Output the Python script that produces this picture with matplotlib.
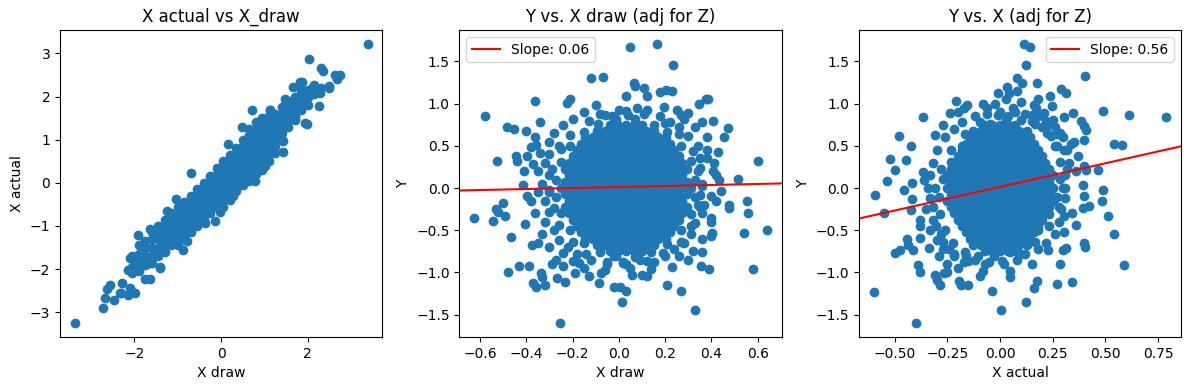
import numpy as np
import matplotlib.pyplot as plt

# ---- panel 1: X actual vs X draw ----
# dense band, one column of points per x draw value
band_x = [-2.05, -1.9, -1.75, -1.6, -1.45, -1.3, -1.15, -1.0, -0.85, -0.7,
          -0.55, -0.4, -0.25, -0.1, 0.05, 0.2, 0.35, 0.5, 0.65, 0.8,
          0.95, 1.1, 1.25, 1.4, 1.55, 1.7, 1.85, 2.0, 2.15, 2.3]
band_y = [
    [-1.75, -1.95, -2.1],
    [-1.45, -1.65, -1.85, -2.05],
    [-1.35, -1.5, -1.7, -1.9],
    [-1.15, -1.3, -1.5, -1.7, -1.85],
    [-1.0, -1.15, -1.3, -1.5, -1.7],
    [-0.85, -1.0, -1.15, -1.3, -1.45, -1.6],
    [-0.7, -0.85, -1.0, -1.15, -1.3, -1.45],
    [-0.55, -0.7, -0.85, -1.0, -1.15, -1.3, -1.45],
    [-0.45, -0.6, -0.75, -0.9, -1.05, -1.2, -1.3],
    [-0.3, -0.45, -0.6, -0.75, -0.9, -1.05, -1.15],
    [-0.15, -0.3, -0.45, -0.6, -0.75, -0.9, -1.0],
    [0.0, -0.15, -0.3, -0.45, -0.6, -0.75, -0.85],
    [0.15, 0.0, -0.15, -0.3, -0.45, -0.6, -0.7],
    [0.35, 0.2, 0.05, -0.1, -0.25, -0.4, -0.55],
    [0.5, 0.35, 0.2, 0.05, -0.1, -0.25, -0.4, -0.55],
    [0.65, 0.5, 0.35, 0.2, 0.05, -0.1, -0.25, -0.4],
    [0.8, 0.65, 0.5, 0.35, 0.2, 0.05, -0.1, -0.2],
    [1.0, 0.85, 0.7, 0.55, 0.4, 0.25, 0.1, -0.05],
    [1.25, 1.1, 0.95, 0.8, 0.65, 0.5, 0.35, 0.2, 0.05],
    [1.4, 1.25, 1.1, 0.95, 0.8, 0.65, 0.5, 0.35, 0.2],
    [1.5, 1.35, 1.2, 1.05, 0.9, 0.75, 0.6, 0.45, 0.3],
    [1.55, 1.4, 1.25, 1.1, 0.95, 0.8, 0.65, 0.5],
    [1.6, 1.45, 1.3, 1.15, 1.0, 0.85, 0.7],
    [1.75, 1.6, 1.45, 1.3, 1.15, 1.0],
    [1.9, 1.75, 1.6, 1.45, 1.3],
    [2.0, 1.85, 1.7, 1.55, 1.45],
    [2.15, 2.0, 1.85, 1.7],
    [2.15, 2.0, 1.8],
    [2.2, 2.05],
    [2.2],
]
# scattered points around the band
x_draw_out = [-3.38, 3.38, 2.02, 2.31, 2.35, 2.63, 2.75, 2.67, 2.5, 2.48,
              2.27, 2.28, 1.98, 2.13, 1.86, 1.82, 1.67, 2.15, 0.71, 1.12,
              1.48, 1.42, 1.44, 0.48, 0.15, -0.7, -1.05, -0.02, -0.14, -0.88,
              -1.91, -2.06, -2.14, -1.65, -1.75, -1.42, -2.29, -2.56, -2.64, -2.68,
              -2.48, -2.72, -2.33, -2.14, -1.98, -1.25, -1.64, -2.1, -2.1, -2.31,
              -1.41, -0.37, -0.79, -1.72, 1.71, 1.94, 1.02, 0.78, 0.28, 1.13]
x_actual_out = [-3.25, 3.22, 2.88, 2.67, 2.6, 2.51, 2.51, 2.4, 2.2, 2.24,
                1.79, 2.09, 1.37, 2.23, 2.34, 2.34, 2.23, 2.28, 1.68, 1.68,
                1.95, 0.71, 0.97, 1.29, 0.91, 0.22, -0.37, -0.68, -0.89, -1.55,
                -1.2, -1.7, -2.03, -2.24, -2.24, -1.96, -2.32, -2.36, -2.46, -2.67,
                -2.71, -2.9, -2.55, -2.61, -2.55, -0.66, -1.08, -1.74, -2.44, -2.55,
                -1.97, -0.93, -1.35, -1.89, 1.51, 1.39, 0.39, 0.04, -0.31, 1.7]

# ---- panel 2: Y vs X draw (adjusted for Z) ----
# dense core: rows of x draw values, each row at one Y level
a17 = [-0.25, -0.215, -0.18, -0.145, -0.11, -0.075, -0.04, -0.005, 0.03,
       0.065, 0.1, 0.135, 0.17, 0.205, 0.24, 0.275, 0.31]
b16 = [-0.233, -0.198, -0.163, -0.128, -0.093, -0.058, -0.023, 0.013,
       0.048, 0.083, 0.118, 0.153, 0.188, 0.223, 0.258, 0.293]
a15 = [-0.215, -0.18, -0.145, -0.11, -0.075, -0.04, -0.005, 0.03, 0.065,
       0.1, 0.135, 0.17, 0.205, 0.24, 0.275]
b14 = [-0.198, -0.163, -0.128, -0.093, -0.058, -0.023, 0.013, 0.048,
       0.083, 0.118, 0.153, 0.188, 0.223, 0.258]
a13 = [-0.18, -0.145, -0.11, -0.075, -0.04, -0.005, 0.03, 0.065, 0.1,
       0.135, 0.17, 0.205, 0.24]
b12 = [-0.163, -0.128, -0.093, -0.058, -0.023, 0.013, 0.048, 0.083,
       0.118, 0.153, 0.188, 0.223]
a11 = [-0.145, -0.11, -0.075, -0.04, -0.005, 0.03, 0.065, 0.1, 0.135,
       0.17, 0.205]
b8 = [-0.093, -0.058, -0.023, 0.013, 0.048, 0.083, 0.118, 0.153]
a5 = [-0.04, -0.005, 0.03, 0.065, 0.1]
core2_y = [0.75, 0.675, 0.6, 0.525, 0.45, 0.375, 0.3, 0.225, 0.15, 0.075, 0.0,
           -0.075, -0.15, -0.225, -0.3, -0.375, -0.45, -0.525, -0.6, -0.675, -0.75]
core2_x = [a5, b8, a11, b12, a13, b14, a15, b16, a15, b16, a17,
           b16, a15, b16, a15, b14, a13, b12, a11, b8, a5]

# points fringing the core
fringe2_x = [0.36, 0.349, 0.32, 0.26, 0.2, 0.11, 0.03, -0.06, -0.13, -0.21,
             -0.25, -0.29, -0.30, -0.28, -0.26, -0.2, -0.14, -0.05, 0.03, 0.12,
             0.19, 0.27, 0.31, 0.35,
             0.33, 0.31, 0.27, 0.21, 0.15, 0.07, -0.01, -0.09, -0.15, -0.21,
             -0.25, -0.27, -0.27, -0.25, -0.21, -0.15, -0.08, -0.01, 0.07, 0.14,
             0.21, 0.27, 0.31, 0.33]
fringe2_y = [0.02, 0.24, 0.44, 0.64, 0.77, 0.88, 0.91, 0.86, 0.79, 0.63,
             0.46, 0.22, -0.02, -0.24, -0.44, -0.64, -0.78, -0.88, -0.9, -0.86,
             -0.77, -0.64, -0.45, -0.22,
             0.1, 0.32, 0.5, 0.66, 0.75, 0.82, 0.82, 0.76, 0.66, 0.5,
             0.31, 0.1, -0.11, -0.3, -0.5, -0.65, -0.76, -0.81, -0.82, -0.76,
             -0.66, -0.5, -0.31, -0.11]

xd_out = [-0.578, -0.525, -0.625, -0.542, -0.53, -0.52, -0.5, -0.49, -0.467, -0.477,
          -0.43, -0.387, -0.372, -0.357, -0.317, -0.337, -0.333, -0.376, -0.405, -0.398,
          -0.415, -0.398, -0.444, -0.44, -0.484, -0.451, -0.4, -0.361, -0.342, -0.38,
          -0.357, -0.41, -0.267, -0.256, -0.231, -0.29, -0.224, -0.21, -0.119, -0.069,
          0.048, 0.165, 0.234, 0.065, 0.072, 0.111, 0.123, 0.032, 0.178, 0.202,
          0.228, 0.195, 0.27, 0.3, 0.361, 0.347, 0.376, 0.386, 0.408, 0.455,
          0.473, 0.6, 0.513, 0.553, 0.56, 0.474, 0.477, 0.542, 0.64, 0.578,
          0.441, 0.434, 0.43, 0.41, 0.405, 0.398, 0.402, 0.398, 0.361, 0.354,
          0.39, 0.328, 0.27, 0.228, 0.21, 0.137, 0.0145, 0.029, 0.007, -0.022,
          -0.087, -0.075, -0.058, 0.019, 0.058, 0.1, 0.123, -0.127, -0.188, -0.173,
          -0.239,
          0.08, 0.0, -0.08, -0.15, -0.2, -0.1, 0.12, 0.18, 0.04, -0.03,
          0.22, 0.26, -0.24, -0.28, -0.3, -0.3, -0.32, -0.3, -0.33, -0.3,
          -0.32, -0.3, -0.32, -0.28, -0.26, -0.22, -0.18, 0.34, 0.35, 0.34,
          0.36, 0.35, 0.34, 0.36, 0.33, 0.31, 0.28, 0.24, 0.2, -0.12,
          -0.05, 0.02, 0.09, 0.15, -0.15, 0.05, -0.02, 0.3, -0.26, 0.38,
          -0.36, 0.4, -0.35, -0.36, -0.34, -0.37, -0.35, -0.38, -0.33, -0.3,
          -0.35, -0.27, -0.24, -0.2, 0.38, 0.37, 0.42, 0.4, 0.36, 0.32,
          0.3, 0.26, 0.42, 0.38, 0.33, 0.28, 0.25]
y2_out = [0.858, 0.32, -0.356, -0.387, -0.25, -0.29, -0.18, -0.33, -0.58, -1.0,
          -0.93, -0.92, -1.13, -1.17, -1.15, -1.01, -1.05, -0.67, -0.43, -0.1,
          0.04, 0.375, 0.375, 0.32, 0.72, 0.7, 0.68, 1.035, 0.78, 0.49,
          0.51, 0.2, -1.07, -1.6, -1.11, -0.9, 1.01, 1.055, 1.3, 1.32,
          1.668, 1.707, 1.458, 1.245, 1.21, 1.19, 1.09, 1.09, 1.14, 1.166,
          1.15, 0.96, 0.86, 0.89, 0.78, 1.0, 1.05, 1.06, 0.8, 0.61,
          0.71, 0.316, 0.107, -0.15, -0.3, -0.2, -0.24, -0.53, -0.494, -0.957,
          -0.03, 0.1, 0.43, 0.3, 0.2, -0.356, -0.53, -0.57, -0.76, -0.93,
          -0.96, -1.44, -1.22, -0.94, -1.15, -0.96, -1.35, -1.22, -1.17, -1.17,
          -1.13, -1.01, -0.97, -0.89, -1.03, -1.03, -1.04, -1.04, -1.01, -0.89,
          -0.77,
          0.95, 0.92, 0.88, 0.9, 0.82, 0.98, 0.92, 0.85, 0.86, 0.85,
          0.78, 0.72, 0.75, 0.65, 0.55, 0.4, 0.3, 0.15, 0.05, -0.05,
          -0.15, -0.28, -0.4, -0.5, -0.62, -0.7, -0.78, 0.5, 0.35, 0.2,
          0.05, -0.08, -0.2, -0.3, -0.42, -0.55, -0.65, -0.72, -0.8, -0.85,
          -0.9, -0.88, -0.85, -0.88, -0.95, -0.95, -0.8, 0.62, 0.5, 0.45,
          -0.3, -0.1, 0.2, 0.6, 0.42, 0.28, -0.05, -0.15, -0.55, -0.7,
          -0.65, -0.85, -0.92, -0.87, 0.35, -0.2, -0.15, -0.4, -0.6, -0.75,
          -0.85, -0.8, 0.15, 0.6, 0.72, 0.82, 0.92]

# ---- panel 3: Y vs X actual (adjusted for Z) ----
c15 = [-0.252, -0.216, -0.18, -0.144, -0.108, -0.072, -0.036, 0.0, 0.036,
       0.072, 0.108, 0.144, 0.18, 0.216, 0.252]
d14 = [-0.234, -0.198, -0.162, -0.126, -0.09, -0.054, -0.018, 0.018,
       0.054, 0.09, 0.126, 0.162, 0.198, 0.234]
c13 = [-0.216, -0.18, -0.144, -0.108, -0.072, -0.036, 0.0, 0.036, 0.072,
       0.108, 0.144, 0.18, 0.216]
d12 = [-0.198, -0.162, -0.126, -0.09, -0.054, -0.018, 0.018, 0.054, 0.09,
       0.126, 0.162, 0.198]
c11 = [-0.18, -0.144, -0.108, -0.072, -0.036, 0.0, 0.036, 0.072, 0.108,
       0.144, 0.18]
d10 = [-0.162, -0.126, -0.09, -0.054, -0.018, 0.018, 0.054, 0.09, 0.126, 0.162]
c9 = [-0.144, -0.108, -0.072, -0.036, 0.0, 0.036, 0.072, 0.108, 0.144]
d8 = [-0.126, -0.09, -0.054, -0.018, 0.018, 0.054, 0.09, 0.126]
c5 = [-0.072, -0.036, 0.0, 0.036, 0.072]
core3_y = [0.75, 0.675, 0.6, 0.525, 0.45, 0.375, 0.3, 0.225, 0.15, 0.075, 0.0,
           -0.075, -0.15, -0.225, -0.3, -0.375, -0.45, -0.525, -0.6, -0.675, -0.75]
core3_x = [c5, d8, c9, d10, c11, d12, c13, d14, c15, d14, c15,
           d14, c15, d14, c13, d12, c11, d10, c9, d8, c5]

fringe3_x = [0.31, 0.318, 0.304, 0.27, 0.217, 0.15, 0.072, -0.01, -0.093, -0.168,
             -0.232, -0.28, -0.31, -0.318, -0.304, -0.27, -0.217, -0.15, -0.072, 0.01,
             0.093, 0.168, 0.232, 0.28,
             0.287, 0.284, 0.262, 0.223, 0.168, 0.102, 0.028, -0.046, -0.119, -0.182,
             -0.234, -0.269, -0.287, -0.284, -0.262, -0.223, -0.168, -0.102, -0.028, 0.046,
             0.119, 0.182, 0.234, 0.269]
fringe3_y = [0.0, 0.23, 0.45, 0.64, 0.78, 0.87, 0.9, 0.87, 0.78, 0.64,
             0.45, 0.23, 0.0, -0.23, -0.45, -0.64, -0.78, -0.87, -0.9, -0.87,
             -0.78, -0.64, -0.45, -0.23,
             0.11, 0.31, 0.5, 0.65, 0.76, 0.81, 0.81, 0.76, 0.65, 0.5,
             0.31, 0.11, -0.11, -0.31, -0.5, -0.65, -0.76, -0.81, -0.81, -0.76,
             -0.65, -0.5, -0.31, -0.11]

xa_out = [0.114, 0.143, 0.124, 0.403, 0.178, 0.079, 0.103, 0.035, 0.043, -0.01,
          0.238, 0.292, 0.313, 0.487, 0.614, 0.79, 0.349, 0.384, 0.397, 0.408,
          0.4, 0.543, 0.578, 0.467, 0.487, 0.483, 0.514, 0.543, 0.59, 0.4,
          0.403, 0.34, 0.27, 0.286, 0.3, 0.313, 0.306, 0.36, 0.23, 0.124,
          0.003, -0.04, 0.048, 0.162, 0.178, -0.152, -0.184, -0.195, -0.095, -0.4,
          -0.6, -0.5, -0.473, -0.441, -0.438, -0.413, -0.39, -0.378, -0.286, -0.306,
          -0.298, -0.267, -0.25, -0.338, -0.381, -0.381, -0.422, -0.552, -0.595, -0.537,
          -0.5, -0.52, -0.444, -0.481, -0.42, -0.365, -0.457, -0.416, -0.416, -0.365,
          -0.306, -0.27, -0.235, -0.211, -0.171, -0.156, -0.079, -0.06, -0.025, 0.181,
          0.17, 0.249, 0.21, 0.252, 0.217, 0.286, 0.302, 0.337, 0.371, 0.4,
          0.408, 0.392, 0.392, 0.421, 0.397, 0.306,
          0.0, 0.06, 0.12, 0.18, -0.06, -0.12, 0.1, 0.03, 0.16, 0.22,
          0.26, -0.18, -0.22, -0.26, -0.2, 0.08, -0.3, -0.32, -0.33, -0.34,
          -0.33, -0.35, -0.32, -0.33, -0.3, -0.27, -0.22, -0.17, -0.12, -0.25,
          -0.38, -0.36, 0.3, 0.32, 0.33, 0.31, 0.3, 0.31, 0.29, 0.28,
          0.26, 0.22, 0.18, 0.35, 0.36, 0.34, -0.05, 0.02, 0.08, 0.12,
          0.15, -0.08, 0.05,
          -0.28, -0.29, -0.24, -0.2, -0.16, 0.2, 0.24, 0.15, 0.27, 0.04]
y3_out = [1.707, 1.668, 1.458, 1.324, 1.245, 1.3, 1.245, 1.2, 1.126, 1.126,
          1.087, 1.17, 1.126, 0.917, 0.862, 0.842, 0.889, 0.8, 0.73, 0.69,
          0.57, 0.525, 0.506, 0.217, -0.02, -0.15, -0.336, -0.545, -0.917, -0.652,
          -0.7, -1.115, -1.134, -0.9, -0.73, -0.71, -0.52, -0.435, -0.74, -1.35,
          -1.44, -1.22, -1.06, -1.186, -1.107, -1.154, -1.154, -1.107, -1.04, -1.6,
          -1.233, -0.77, -0.74, -0.605, -0.68, -0.73, -0.917, -1.0, -1.146, -1.03,
          -1.087, -1.01, -1.0, -0.71, -0.593, -0.375, -0.265, -0.296, -0.079, 0.079,
          0.217, 0.344, 0.336, 0.62, 0.5, 0.842, -0.02, 0.059, -0.13, 0.186,
          0.632, 0.75, 0.889, 1.028, 0.949, 0.988, 1.0, 0.949, 1.0, 1.055,
          0.949, 0.976, 0.889, 0.81, 0.739, 0.652, 0.842, 0.526, 0.383, 0.265,
          0.217, 0.04, -0.237, -0.21, -0.1, -0.336,
          0.9, 0.95, 0.88, 0.85, 0.88, 0.85, 1.02, 1.05, 0.98, 0.8,
          0.72, 0.78, 0.7, 0.6, 0.9, 1.15, 0.45, 0.3, 0.15, 0.0,
          -0.12, -0.25, -0.38, -0.5, -0.62, -0.72, -0.8, -0.88, -0.85, -0.9,
          -0.45, 0.1, 0.6, 0.45, 0.3, 0.15, 0.0, -0.12, -0.25, -0.4,
          -0.55, -0.65, -0.72, 0.55, 0.2, -0.3, -0.88, -0.9, -0.85, -0.78,
          -0.9, -0.98, -0.98,
          -0.55, -0.8, -0.72, -0.95, -0.8, 0.72, 0.62, 0.8, 0.5, 0.85]

# fitted lines
slope2, icept2 = 0.06, 0.012
slope3, icept3 = 0.56, 0.013


def build_cols(levels, lists):
    xs, ys = [], []
    for lv, vals in zip(levels, lists):
        xs += [lv] * len(vals)
        ys += vals
    return xs, ys


def build_rows(levels, lists):
    ys, xs = build_cols(levels, lists)
    return xs, ys


bx, by = build_cols(band_x, band_y)
x1 = bx + x_draw_out
y1 = by + x_actual_out
cx2, cy2 = build_rows(core2_y, core2_x)
x2 = cx2 + fringe2_x + xd_out
y2 = cy2 + fringe2_y + y2_out
cx3, cy3 = build_rows(core3_y, core3_x)
x3 = cx3 + fringe3_x + xa_out
y3 = cy3 + fringe3_y + y3_out

fig, axes = plt.subplots(1, 3, figsize=(11.89, 3.9), dpi=100)
plt.subplots_adjust(left=0.0505, right=0.9933, bottom=0.136, top=0.923, wspace=0.24)

ax = axes[0]
ax.scatter(x1, y1)
ax.set_title("X actual vs X_draw")
ax.set_xlabel("X draw")
ax.set_ylabel("X actual")

ax = axes[1]
ax.scatter(x2, y2)
ax.axline((0, icept2), slope=slope2, color="red", label=f"Slope: {slope2:.2f}")
ax.set_title("Y vs. X draw (adj for Z)")
ax.set_xlabel("X draw")
ax.set_ylabel("Y")
ax.legend(loc="upper left")

ax = axes[2]
ax.scatter(x3, y3)
ax.axline((0, icept3), slope=slope3, color="red", label=f"Slope: {slope3:.2f}")
ax.set_title("Y vs. X (adj for Z)")
ax.set_xlabel("X actual")
ax.set_ylabel("Y")
ax.legend(loc="upper right")

plt.savefig("out.png")
